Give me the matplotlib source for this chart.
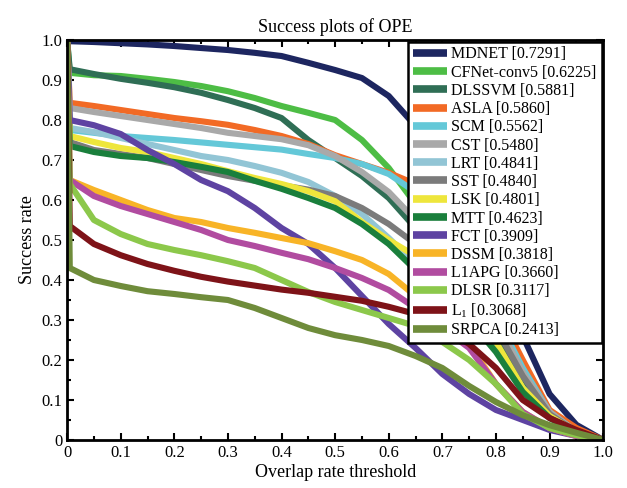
import matplotlib
matplotlib.use("Agg")
import matplotlib.pyplot as plt
from matplotlib.ticker import MultipleLocator, FuncFormatter

plt.rcParams['font.family'] = ['Liberation Serif', 'DejaVu Serif']
plt.rcParams['mathtext.fontset'] = 'custom'
plt.rcParams['mathtext.rm'] = 'Liberation Serif'
plt.rcParams['mathtext.it'] = 'Liberation Serif'
plt.rcParams['mathtext.default'] = 'regular'

thresholds = [0.0, 0.005, 0.05, 0.10, 0.15, 0.20, 0.25, 0.30, 0.35, 0.40, 0.45, 0.50,
              0.55, 0.60, 0.65, 0.70, 0.75, 0.80, 0.85, 0.90, 0.95, 1.0]

names = ["MDNET", "CFNet-conv5", "DLSSVM", "ASLA", "SCM", "CST", "LRT", "SST",
         "LSK", "MTT", "FCT", "DSSM", "L1APG", "DLSR", "L$_1$", "SRPCA"]
scores = ["0.7291", "0.6225", "0.5881", "0.5860", "0.5562", "0.5480", "0.4841", "0.4840",
          "0.4801", "0.4623", "0.3909", "0.3818", "0.3660", "0.3117", "0.3068", "0.2413"]
colors = ["#1d2660", "#4dbd45", "#2f6e55", "#f26a25", "#64c8d8", "#a9a9a9", "#92c5d5", "#7b7b7b",
          "#eee63c", "#1a7f3c", "#5e43a2", "#f8b427", "#b14ca0", "#8cc84b", "#7e1318", "#6f8c3b"]

mdnet = [1.0, 0.997, 0.995, 0.992, 0.989, 0.985, 0.98, 0.975, 0.968, 0.96, 0.943, 0.925, 0.905, 0.86, 0.785, 0.67, 0.54, 0.40, 0.26, 0.115, 0.038, 0.0]
cfnet = [1.0, 0.918, 0.912, 0.91, 0.903, 0.895, 0.885, 0.872, 0.855, 0.835, 0.818, 0.80, 0.75, 0.68, 0.59, 0.48, 0.37, 0.27, 0.17, 0.065, 0.02, 0.0]
dlssvm = [1.0, 0.927, 0.915, 0.903, 0.893, 0.882, 0.868, 0.85, 0.83, 0.805, 0.75, 0.705, 0.66, 0.605, 0.53, 0.43, 0.34, 0.25, 0.15, 0.06, 0.02, 0.0]
asla = [1.0, 0.843, 0.835, 0.825, 0.815, 0.805, 0.797, 0.788, 0.775, 0.76, 0.74, 0.712, 0.69, 0.668, 0.64, 0.56, 0.45, 0.33, 0.20, 0.075, 0.03, 0.0]
scm = [1.0, 0.775, 0.768, 0.76, 0.755, 0.75, 0.744, 0.738, 0.732, 0.726, 0.715, 0.705, 0.69, 0.665, 0.62, 0.54, 0.43, 0.31, 0.18, 0.07, 0.02, 0.0]
cst = [1.0, 0.83, 0.82, 0.81, 0.80, 0.79, 0.78, 0.768, 0.76, 0.752, 0.737, 0.71, 0.67, 0.62, 0.55, 0.47, 0.39, 0.30, 0.17, 0.07, 0.02, 0.0]
lrt = [1.0, 0.78, 0.77, 0.755, 0.74, 0.725, 0.71, 0.70, 0.685, 0.668, 0.645, 0.61, 0.565, 0.505, 0.44, 0.37, 0.30, 0.23, 0.13, 0.055, 0.015, 0.0]
sst = [1.0, 0.745, 0.725, 0.715, 0.705, 0.69, 0.675, 0.66, 0.648, 0.637, 0.626, 0.61, 0.58, 0.54, 0.49, 0.42, 0.35, 0.28, 0.16, 0.065, 0.02, 0.0]
lsk = [1.0, 0.76, 0.745, 0.73, 0.72, 0.705, 0.69, 0.672, 0.655, 0.64, 0.622, 0.597, 0.545, 0.50, 0.46, 0.40, 0.33, 0.245, 0.13, 0.06, 0.02, 0.0]
mtt = [1.0, 0.735, 0.72, 0.71, 0.705, 0.695, 0.683, 0.67, 0.648, 0.628, 0.605, 0.58, 0.54, 0.49, 0.425, 0.36, 0.30, 0.22, 0.12, 0.055, 0.02, 0.0]
fct = [1.0, 0.80, 0.787, 0.765, 0.725, 0.69, 0.65, 0.622, 0.58, 0.53, 0.49, 0.43, 0.36, 0.29, 0.23, 0.165, 0.115, 0.075, 0.05, 0.025, 0.01, 0.0]
dssm = [1.0, 0.65, 0.625, 0.60, 0.575, 0.555, 0.545, 0.53, 0.518, 0.505, 0.492, 0.472, 0.45, 0.415, 0.36, 0.30, 0.24, 0.14, 0.07, 0.03, 0.01, 0.0]
l1apg = [1.0, 0.65, 0.61, 0.585, 0.565, 0.545, 0.525, 0.50, 0.485, 0.468, 0.452, 0.43, 0.405, 0.375, 0.33, 0.28, 0.23, 0.14, 0.07, 0.03, 0.01, 0.0]
dlsr = [1.0, 0.64, 0.55, 0.515, 0.49, 0.475, 0.462, 0.447, 0.43, 0.40, 0.37, 0.345, 0.325, 0.305, 0.285, 0.245, 0.20, 0.14, 0.065, 0.03, 0.012, 0.0]
l1 = [1.0, 0.535, 0.49, 0.462, 0.44, 0.423, 0.408, 0.396, 0.386, 0.376, 0.368, 0.358, 0.348, 0.333, 0.315, 0.28, 0.24, 0.18, 0.10, 0.055, 0.025, 0.0]
srpca = [1.0, 0.43, 0.40, 0.385, 0.372, 0.365, 0.357, 0.35, 0.33, 0.305, 0.28, 0.262, 0.25, 0.235, 0.21, 0.18, 0.135, 0.095, 0.062, 0.037, 0.018, 0.0]

series = [mdnet, cfnet, dlssvm, asla, scm, cst, lrt, sst, lsk, mtt, fct, dssm, l1apg, dlsr, l1, srpca]

fig = plt.figure(figsize=(6.27, 4.88), dpi=100)
ax = fig.add_axes([0.107, 0.0984, 0.855, 0.8196])

for name, sc, col, vals in zip(names, scores, colors, series):
    ax.plot(thresholds, vals, color=col, lw=4.4, label=f"{name} [{sc}]",
            solid_joinstyle='round', solid_capstyle='butt')

ax.set_xlim(0, 1)
ax.set_ylim(0, 1)
ax.xaxis.set_major_locator(MultipleLocator(0.1))
ax.yaxis.set_major_locator(MultipleLocator(0.1))
ax.xaxis.set_minor_locator(MultipleLocator(0.05))
ax.yaxis.set_minor_locator(MultipleLocator(0.05))
fmt = FuncFormatter(lambda v, p: "0" if abs(v) < 1e-9 else f"{v:.1f}")
ax.xaxis.set_major_formatter(fmt)
ax.yaxis.set_major_formatter(fmt)
ax.tick_params(which='both', direction='in', top=True, right=True, width=1.5, labelsize=12)
ax.tick_params(which='major', length=5)
ax.tick_params(which='minor', length=3)
for s in ax.spines.values():
    s.set_linewidth(2)

ax.set_title("Success plots of OPE", fontsize=13, pad=6)
ax.set_xlabel("Overlap rate threshold", fontsize=13, labelpad=2)
ax.set_ylabel("Success rate", fontsize=13, labelpad=4)

leg = ax.legend(loc='upper right', fontsize=11.5, frameon=True, fancybox=False,
                edgecolor='black', framealpha=1, borderaxespad=0.1,
                labelspacing=0.14, handlelength=2.1, handletextpad=0.3,
                borderpad=0.3)
leg.get_frame().set_linewidth(1.8)
for h in leg.get_lines():
    h.set_linewidth(5.5)

fig.savefig("out.png", dpi=100)
